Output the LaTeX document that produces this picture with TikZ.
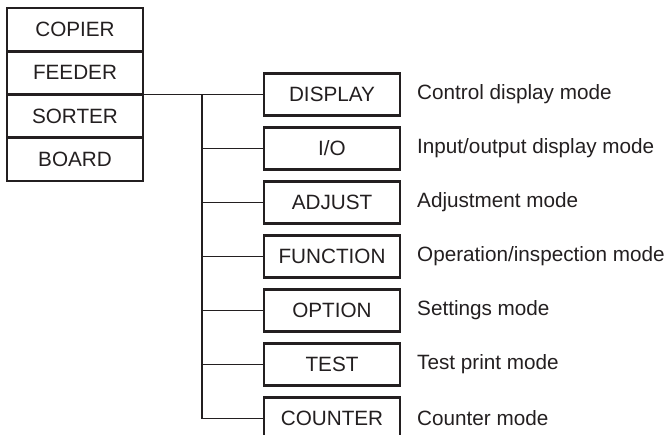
\documentclass[tikz,border=0pt]{standalone}
\usepackage{fontspec}
\setmainfont{Liberation Sans}
\usepackage{xcolor}
\usepackage{tikz}
\usetikzlibrary{positioning,calc}
\definecolor{inkgray}{HTML}{231F20}

\begin{document}
\begin{tikzpicture}[x=1pt,y=1pt,
  unitbox/.style={draw=inkgray,line width=2.6pt,outer sep=0pt,minimum width=136pt,minimum height=43.25pt,inner sep=0pt,text=inkgray,font=\fontsize{20.7}{24}\selectfont},
  modebox/.style={draw=inkgray,line width=2.6pt,outer sep=0pt,minimum width=136pt,minimum height=42pt,inner sep=0pt,text=inkgray,font=\fontsize{20.7}{24}\selectfont},
  modetext/.style={anchor=west,inner sep=0pt,text=inkgray,font=\fontsize{20.7}{24}\selectfont},
  link/.style={draw=inkgray,line width=1.3pt}]
  \useasboundingbox (0,0) rectangle (672,-435);
  \clip (0,0) rectangle (672,-435);
  % unit stack
  \node[unitbox] (copier) at (75,-29.6) {COPIER};
  \node[unitbox,below=0pt of copier] (feeder) {FEEDER};
  \node[unitbox,below=0pt of feeder] (sorter) {SORTER};
  \node[unitbox,below=0pt of sorter] (board)  {BOARD};
  % mode boxes
  \node[modebox] (display) at ($(feeder.south east)+(189,0)$) {DISPLAY};
  \node[modebox,below=12pt of display] (io)       {I/O};
  \node[modebox,below=12pt of io]      (adjust)   {ADJUST};
  \node[modebox,below=12pt of adjust]  (function) {FUNCTION};
  \node[modebox,below=12pt of function] (option)  {OPTION};
  \node[modebox,below=12pt of option]  (test)     {TEST};
  \node[modebox,below=12pt of test]    (counter)  {COUNTER};
  % descriptions
  \node[modetext,right=17pt of display.east]  (dDisplay)  {Control display mode};
  \node[modetext,right=17pt of io.east]       (dIo)       {Input/output display mode};
  \node[modetext,right=17pt of adjust.east]   (dAdjust)   {Adjustment mode};
  \node[modetext,right=17pt of function.east] (dFunction) {Operation/inspection mode};
  \node[modetext,right=17pt of option.east]   (dOption)   {Settings mode};
  \node[modetext,right=17pt of test.east]     (dTest)     {Test print mode};
  \node[modetext,right=17pt of counter.east]  (dCounter)  {Counter mode};
  % connectors
  \coordinate (trunk) at ($(feeder.south east)+(59,0)$);
  \draw[link] (feeder.south east) -- (display.west);
  \draw[link] (trunk) |- (counter.west);
  \foreach \m in {io,adjust,function,option,test}
    \draw[link] (trunk |- \m.west) -- (\m.west);
\end{tikzpicture}
\end{document}
